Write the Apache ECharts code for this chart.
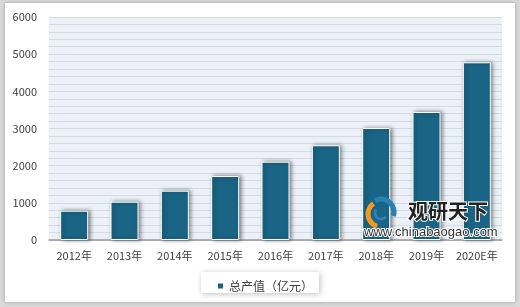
<!DOCTYPE html>
<html><head><meta charset="utf-8">
<script src="https://cdn.jsdelivr.net/npm/echarts@6/dist/echarts.min.js"></script>
<style>html,body{margin:0;padding:0;background:#d9d9d9;}#c{width:520px;height:307px;}</style>
</head><body><div id="c"></div>
<script>
const categories = ['2012年','2013年','2014年','2015年','2016年','2017年','2018年','2019年','2020E年'];
const values = [788, 1030, 1326, 1722, 2107, 2548, 3013, 3444, 4781];
const seriesName = '总产值（亿元）';
const yTicks = [0, 1000, 2000, 3000, 4000, 5000, 6000];

const chart = echarts.init(document.getElementById('c'));
const font = '"Noto Sans CJK SC", "Noto Sans", sans-serif';
chart.setOption({
  backgroundColor: 'transparent',
  textStyle: {fontFamily: font},
  graphic: [
    {type:'rect', shape:{x:5,y:3,width:510,height:299}, style:{fill:'#fff', shadowBlur:4, shadowColor:'rgba(0,0,0,0.25)'}, z:-10},
    {type:'rect', shape:{x:201,y:272,width:118,height:21}, style:{fill:'#fff', shadowBlur:6, shadowColor:'rgba(0,0,0,0.25)', shadowOffsetX:1, shadowOffsetY:1}, z:-5},
    {type:'arc', shape:{cx:381,cy:214,r:13,startAngle:Math.PI*0.6,endAngle:Math.PI*1.3}, style:{stroke:'#f39a1f',lineWidth:5,fill:null}, z:20},
    {type:'arc', shape:{cx:381,cy:212,r:13,startAngle:Math.PI*1.35,endAngle:Math.PI*2.1}, style:{stroke:'#2a7fb5',lineWidth:5,fill:null}, z:20},
    {type:'arc', shape:{cx:381,cy:213,r:6,startAngle:Math.PI*0.2,endAngle:Math.PI*1.2}, style:{stroke:'#2a7fb5',lineWidth:3,fill:null}, z:20},
    {type:'text', left:407, top:200, style:{text:'观研天下', font:'bold 20px '+font, fill:'#222', stroke:'#fff', lineWidth:2}, z:20},
    {type:'text', left:363, top:225, style:{text:'www.chinabaogao.com', font:'13px "Liberation Sans", Arial, sans-serif', fill:'#333', stroke:'#fff', lineWidth:2}, z:20}
  ],
  legend: {
    data:[seriesName], left:211, top:275, itemWidth:7, itemHeight:7, itemGap:4,
    icon:'rect', textStyle:{fontSize:12, color:'#404040', fontFamily:font}
  },
  grid: {left:49, right:18, top:17, bottom:67, containLabel:false, show:true, backgroundColor:'#ebf1f7', borderWidth:0},
  xAxis: {
    type:'category', data:categories,
    axisLine:{show:true, lineStyle:{color:'#999', width:1.5}},
    axisTick:{show:false},
    axisLabel:{interval:0, fontSize:11, color:'#404040', margin:10, fontFamily:font}
  },
  yAxis: {
    type:'value', min:0, max:6000, interval:1000,
    axisLine:{show:false}, axisTick:{show:false},
    axisLabel:{fontSize:11, color:'#404040', margin:12, fontFamily:font,
      formatter: v => yTicks.includes(v) ? String(v) : ''},
    splitLine:{show:true, lineStyle:{color:'#d3dce4', width:1}},
    minorTick:{show:false, splitNumber:5},
    minorSplitLine:{show:true, lineStyle:{color:'#d3dce4', width:1}}
  },
  series: [{
    name:seriesName, type:'bar', data:values, barWidth:28,
    itemStyle:{color:'#1a6585', borderColor:'#fff', borderWidth:1,
      shadowBlur:4, shadowColor:'rgba(0,0,0,0.45)', shadowOffsetX:2, shadowOffsetY:0}
  }]
});
</script></body></html>
